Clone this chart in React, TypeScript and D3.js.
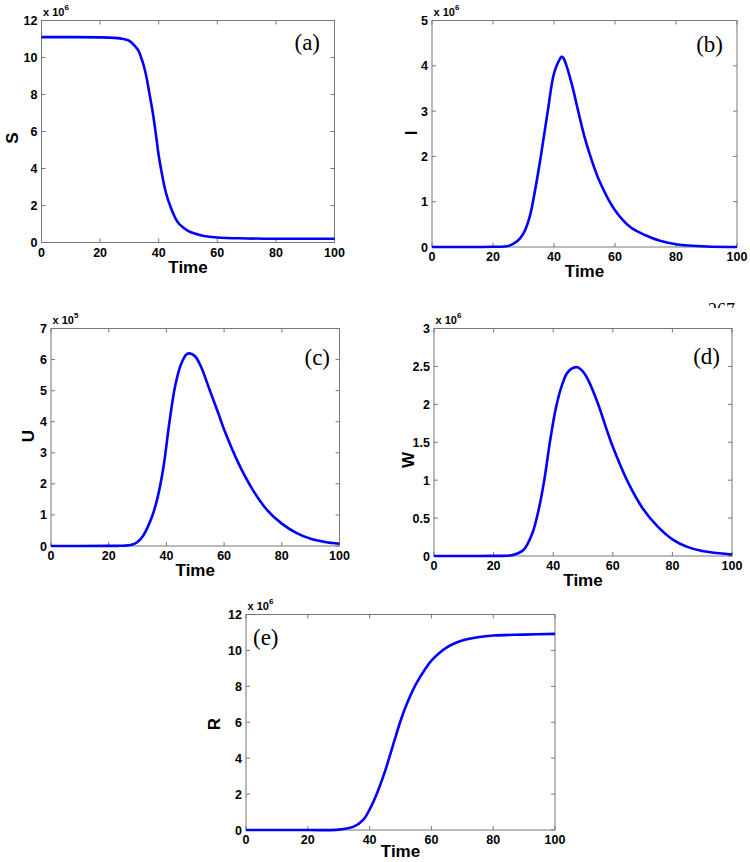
import React from "react";
import * as d3 from "d3";

// values (y in units of the axis multiplier)
const timeTicks = [0, 20, 40, 60, 80, 100];

const sTime = [0, 10, 20, 25, 28, 30, 32, 33, 34, 35, 36, 37, 38, 39, 40, 41, 42, 43, 44, 45, 46, 47, 48, 50, 52, 55, 60, 70, 80, 90, 100];
const sVals = [11.1, 11.1, 11.09, 11.06, 11.0, 10.9, 10.6, 10.4, 10.0, 9.5, 8.8, 7.9, 7.0, 5.9, 4.7, 3.8, 3.0, 2.4, 1.95, 1.55, 1.22, 1.0, 0.86, 0.63, 0.5, 0.37, 0.27, 0.22, 0.2, 0.2, 0.2];

const iTime = [0, 20, 25, 28, 30, 32, 34, 36, 38, 40, 42, 42.5, 43, 44, 46, 48, 50, 52, 55, 60, 65, 70, 75, 80, 90, 100];
const iVals = [0, 0.005, 0.02, 0.13, 0.3, 0.66, 1.33, 2.14, 3.02, 3.83, 4.16, 4.2, 4.18, 4.02, 3.55, 2.98, 2.43, 1.99, 1.44, 0.81, 0.44, 0.26, 0.13, 0.06, 0.01, 0.0];

const uTime = [0, 20, 25, 28, 30, 32, 35, 37, 39, 41, 43, 45, 47, 48, 50, 52, 55, 58, 60, 65, 70, 75, 80, 85, 90, 95, 100];
const uVals = [0, 0.005, 0.01, 0.04, 0.13, 0.34, 0.94, 1.58, 2.55, 3.95, 5.13, 5.83, 6.17, 6.2, 6.1, 5.77, 5.02, 4.27, 3.75, 2.66, 1.8, 1.15, 0.72, 0.42, 0.23, 0.13, 0.07];

const wTime = [0, 20, 26, 30, 33, 35, 37, 39, 41, 43, 45, 48, 50, 52, 55, 58, 60, 65, 70, 75, 80, 85, 90, 100];
const wVals = [0, 0.002, 0.01, 0.08, 0.3, 0.59, 1.0, 1.53, 1.97, 2.26, 2.43, 2.49, 2.43, 2.3, 2.01, 1.66, 1.44, 0.98, 0.63, 0.39, 0.22, 0.12, 0.066, 0.02];

const rTime = [0, 20, 30, 35, 38, 40, 42, 45, 48, 50, 52, 55, 58, 60, 65, 70, 75, 80, 90, 100];
const rVals = [0, 0, 0.02, 0.2, 0.58, 1.14, 1.88, 3.28, 4.96, 6.07, 7.0, 8.12, 8.96, 9.43, 10.17, 10.55, 10.73, 10.83, 10.88, 10.92];

const sTicks = [0, 2, 4, 6, 8, 10, 12];
const iTicks = [0, 1, 2, 3, 4, 5];
const uTicks = [0, 1, 2, 3, 4, 5, 6, 7];
const wTicks = [0, 0.5, 1, 1.5, 2, 2.5, 3];
const rTicks = [0, 2, 4, 6, 8, 10, 12];

const panels = [
  { name: "S", tag: "(a)", exp: "6", time: sTime, vals: sVals, ticks: sTicks,
    box: [41.5, 334.5, 20.5, 242.5], ylab: [12, 138], tagPos: [320, 50, "end"] },
  { name: "I", tag: "(b)", exp: "6", time: iTime, vals: iVals, ticks: iTicks,
    box: [432, 737, 20.5, 247], ylab: [411, 133], tagPos: [723, 52, "end"] },
  { name: "U", tag: "(c)", exp: "5", time: uTime, vals: uVals, ticks: uTicks,
    box: [51, 339.5, 328.5, 546], ylab: [28, 436], tagPos: [330, 365, "end"] },
  { name: "W", tag: "(d)", exp: "6", time: wTime, vals: wVals, ticks: wTicks,
    box: [434, 732, 328.5, 556], ylab: [408, 460], tagPos: [720, 364, "end"] },
  { name: "R", tag: "(e)", exp: "6", time: rTime, vals: rVals, ticks: rTicks,
    box: [246, 555, 614.5, 830], ylab: [214, 724], tagPos: [253, 645, "start"] },
];

const sans = "'Liberation Sans', Arial, Helvetica, sans-serif";
const serif = "'Liberation Serif', 'Times New Roman', serif";
const axisColor = "#777";

function Panel({ p }: { p: any }) {
  const [x0, x1, y0, y1] = p.box;
  const x = d3.scaleLinear().domain([0, 100]).range([x0, x1]);
  const yMax = p.ticks[p.ticks.length - 1];
  const y = d3.scaleLinear().domain([0, yMax]).range([y1, y0]);
  const pts = p.time.map((t: number, i: number) => [t, p.vals[i]]);
  const line = d3
    .line<number[]>()
    .x((d) => x(d[0]))
    .y((d) => y(d[1]))
    .curve(d3.curveCatmullRom.alpha(0.5));
  const fmt = d3.format("~g");
  const tl = 4;

  return (
    <g>
      <rect x={x0} y={y0} width={x1 - x0} height={y1 - y0} fill="none" stroke={axisColor} strokeWidth={1} />
      {timeTicks.map((t) => (
        <g key={"x" + t}>
          <line x1={x(t)} x2={x(t)} y1={y1} y2={y1 - tl} stroke={axisColor} />
          <line x1={x(t)} x2={x(t)} y1={y0} y2={y0 + tl} stroke={axisColor} />
          <text x={x(t)} y={y1 + 14} textAnchor="middle" fontFamily={sans} fontWeight="bold" fontSize={12.5}>
            {t}
          </text>
        </g>
      ))}
      {p.ticks.map((v: number) => (
        <g key={"y" + v}>
          <line x1={x0} x2={x0 + tl} y1={y(v)} y2={y(v)} stroke={axisColor} />
          <line x1={x1} x2={x1 - tl} y1={y(v)} y2={y(v)} stroke={axisColor} />
          <text x={x0 - 4} y={y(v) + 4.5} textAnchor="end" fontFamily={sans} fontWeight="bold" fontSize={12.5}>
            {fmt(v)}
          </text>
        </g>
      ))}
      <text x={x0 + 1.5} y={y0 - 5} fontFamily={sans} fontWeight="bold" fontSize={11}>
        x 10
        <tspan dy={-6} fontSize={8}>{p.exp}</tspan>
      </text>
      <path d={line(pts) || ""} fill="none" stroke="#0000ff" strokeWidth={2.6} />
      <text x={(x0 + x1) / 2} y={Math.min(y1 + 30, 857)} textAnchor="middle" fontFamily={sans} fontWeight="bold" fontSize={17}>
        Time
      </text>
      <text
        transform={`translate(${p.ylab[0]},${p.ylab[1]}) rotate(-90)`}
        textAnchor="middle"
        dy="0.35em"
        fontFamily={sans}
        fontWeight="bold"
        fontSize={17}
      >
        {p.name}
      </text>
      <text x={p.tagPos[0]} y={p.tagPos[1]} textAnchor={p.tagPos[2]} fontFamily={serif} fontSize={23}>
        {p.tag}
      </text>
    </g>
  );
}

export default function App() {
  return (
    <svg width={750} height={862} style={{ position: "absolute", left: 0, top: 0, background: "#fff" }}>
      <defs>
        <clipPath id="pageclip">
          <rect x={690} y={296} width={60} height={12} />
        </clipPath>
      </defs>
      <rect x={0} y={0} width={750} height={862} fill="#fff" />
      <text x={708} y={316} fontFamily={serif} fontSize={18} clipPath="url(#pageclip)">
        267
      </text>
      {panels.map((p) => (
        <Panel key={p.name} p={p} />
      ))}
    </svg>
  );
}
